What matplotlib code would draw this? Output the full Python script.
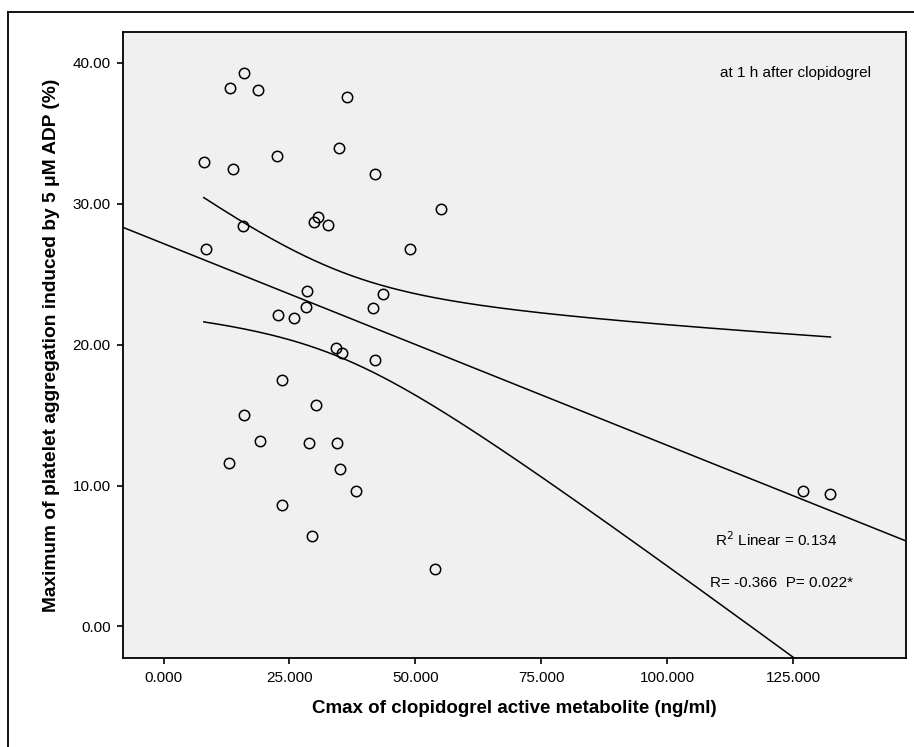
import numpy as np
import matplotlib
matplotlib.use("Agg")
import matplotlib.pyplot as plt
from matplotlib.lines import Line2D

plt.rcParams['font.family'] = ['Liberation Sans', 'DejaVu Sans']

# Cmax of clopidogrel active metabolite (ng/ml)
cmax = [16.0, 13.2, 18.8, 36.5, 8.0, 13.8, 22.6, 34.9, 42.0, 55.1,
        30.7, 29.9, 32.7, 15.8, 8.4, 49.0, 28.5, 43.6, 28.3, 41.6,
        22.8, 25.9, 34.3, 35.5, 42.0, 23.5, 30.3, 16.0, 19.2, 28.9,
        34.5, 13.0, 35.1, 38.3, 23.5, 29.5, 53.8, 126.9, 132.4]
# max platelet aggregation, 5 uM ADP (%)
aggr = [39.3, 38.2, 38.1, 37.6, 33.0, 32.5, 33.4, 34.0, 32.1, 29.6,
        29.1, 28.7, 28.5, 28.4, 26.8, 26.8, 23.8, 23.6, 22.7, 22.6,
        22.1, 21.9, 19.8, 19.4, 18.9, 17.5, 15.7, 15.0, 13.2, 13.0,
        13.0, 11.6, 11.2, 9.6, 8.6, 6.4, 4.1, 9.6, 9.4]

xticks = [0, 25, 50, 75, 100, 125]
yticks = [0, 10, 20, 30, 40]

x = np.array(cmax)
y = np.array(aggr)
n = len(x)

# linear fit + 95% CI of the mean
b, a = np.polyfit(x, y, 1)
res = y - (a + b*x)
s = np.sqrt(np.sum(res**2)/(n-2))
t = 2.026  # t(0.975, df=37)
sxx = np.sum((x - x.mean())**2)

fig = plt.figure(figsize=(9.14, 7.47), dpi=100)
ax = fig.add_axes([123/914, 89/747, 783/914, 626/747])
ax.set_facecolor('#f0f0f0')

xlim = (-8.04, 147.4)
xx = np.linspace(xlim[0], xlim[1], 200)
ax.plot(xx, a + b*xx, color='black', lw=1.1)

xb = np.linspace(x.min(), x.max(), 200)
half = t*s*np.sqrt(1/n + (xb - x.mean())**2/sxx)
ax.plot(xb, a + b*xb + half, color='black', lw=1.1)
ax.plot(xb, a + b*xb - half, color='black', lw=1.1)

ax.plot(x, y, 'o', ms=7.5, mfc='none', mec='black', mew=1.1)

ax.set_xlim(xlim)
ax.set_ylim(-2.24, 42.2)
ax.set_xticks(xticks)
ax.set_yticks(yticks)
ax.set_xticklabels(['%.3f' % v for v in xticks])
ax.set_yticklabels(['%.2f' % v for v in yticks])
ax.tick_params(direction='out', length=4, width=1.2, labelsize=11, pad=5)
for sp in ax.spines.values():
    sp.set_linewidth(1.3)

ax.set_xlabel('Cmax of clopidogrel active metabolite (ng/ml)', fontsize=13.5, fontweight='bold', labelpad=11)
ax.set_ylabel('Maximum of platelet aggregation induced by 5 μM ADP (%)', fontsize=13.8, fontweight='bold', labelpad=9)

fig.text(795/914, 1-73/747, 'at 1 h after clopidogrel', ha='center', va='center', fontsize=11)
fig.text(776/914, 1-540/747, 'R$^2$ Linear = 0.134', ha='center', va='center', fontsize=11)
fig.text(782/914, 1-583/747, 'R= -0.366  P= 0.022*', ha='center', va='center', fontsize=11)

# outer frame
fig.add_artist(Line2D([8/914, 8/914], [0, 1-12/747], color='black', lw=1.3, transform=fig.transFigure))
fig.add_artist(Line2D([8/914, 1], [1-12/747, 1-12/747], color='black', lw=1.3, transform=fig.transFigure))

fig.savefig('out.png', dpi=100)
